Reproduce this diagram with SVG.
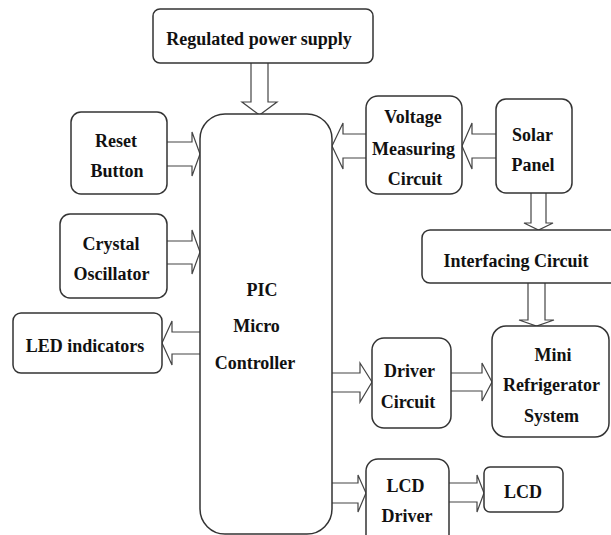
<svg xmlns="http://www.w3.org/2000/svg" width="611" height="535" viewBox="0 0 611 535">
<style>
.box{fill:#fff;stroke:#333;stroke-width:1.5}
.arr{fill:#fff;stroke:#444;stroke-width:1.2;stroke-linejoin:miter}
.t text{font-family:'Liberation Serif','Times New Roman',serif;font-weight:bold;font-size:18px;fill:#111;text-anchor:middle}
</style>
<rect width="611" height="535" fill="#fff"/>
<g id="connectors">
<path class="arr" d="M251,63 L251,102 L242,102 L259.5,115 L277,102 L268,102 L268,63"/>
<path class="arr" d="M167,142 L192,142 L192,132 L200,154 L192,176 L192,166 L167,166"/>
<path class="arr" d="M167,241 L192,241 L192,230 L200,252 L192,274 L192,264 L167,264"/>
<path class="arr" d="M200,332 L172,332 L172,321 L162,343 L172,365 L172,354 L200,354"/>
<path class="arr" d="M366,134 L343,134 L343,123 L332,146 L343,169 L343,158 L366,158"/>
<path class="arr" d="M496,134 L472,134 L472,123 L462,146 L472,169 L472,158 L496,158"/>
<path class="arr" d="M531,193 L531,223 L524,223 L538.5,230 L553,223 L546,223 L546,193"/>
<path class="arr" d="M528,283 L528,320 L519,320 L536.5,326 L554,320 L545,320 L545,283"/>
<path class="arr" d="M332,373 L360,373 L360,363 L372,382 L360,402 L360,392 L332,392"/>
<path class="arr" d="M451,373 L482,373 L482,363 L492,382 L482,401 L482,391 L451,391"/>
<path class="arr" d="M332,483 L358,483 L358,475 L366,493 L358,512 L358,503 L332,503"/>
<path class="arr" d="M449,483 L477,483 L477,475 L484,493 L477,512 L477,502 L449,502"/>
</g>
<g class="t">
<g id="power"><rect class="box" x="153" y="9" width="220" height="54" rx="7"/><text x="259" y="45">Regulated power supply</text></g>
<g id="reset"><rect class="box" x="71" y="112" width="96" height="82" rx="10"/><text x="116" y="147">Reset</text><text x="117" y="177">Button</text></g>
<g id="crystal"><rect class="box" x="60" y="214" width="107" height="84" rx="10"/><text x="111" y="250">Crystal</text><text x="111.5" y="280">Oscillator</text></g>
<g id="led"><rect class="box" x="13" y="313" width="149" height="60" rx="8"/><text x="85" y="352">LED indicators</text></g>
<g id="pic"><rect class="box" x="200" y="114" width="132" height="420" rx="25"/><text x="262" y="296">PIC</text><text x="256.5" y="332">Micro</text><text x="255" y="369">Controller</text></g>
<g id="vmc"><rect class="box" x="366" y="96" width="96" height="98" rx="12"/><text x="413" y="123">Voltage</text><text x="413.5" y="155">Measuring</text><text x="415" y="185">Circuit</text></g>
<g id="solar"><rect class="box" x="496" y="99" width="76" height="94" rx="10"/><text x="532.5" y="141">Solar</text><text x="533" y="171">Panel</text></g>
<g id="interfacing"><rect class="box" x="422" y="230" width="200" height="53" rx="8"/><text x="516" y="267">Interfacing Circuit</text></g>
<g id="driver"><rect class="box" x="372" y="338" width="79" height="90" rx="12"/><text x="409.5" y="377">Driver</text><text x="408" y="408">Circuit</text></g>
<g id="mini"><rect class="box" x="492" y="326" width="117" height="111" rx="14"/><text x="553" y="361">Mini</text><text x="551.5" y="391">Refrigerator</text><text x="551.5" y="422">System</text></g>
<g id="lcddriver"><rect class="box" x="366" y="459" width="83" height="90" rx="12"/><text x="405.5" y="492">LCD</text><text x="407" y="522">Driver</text></g>
<g id="lcd"><rect class="box" x="484" y="467" width="79" height="45" rx="6"/><text x="523" y="498">LCD</text></g>
</g>
</svg>
